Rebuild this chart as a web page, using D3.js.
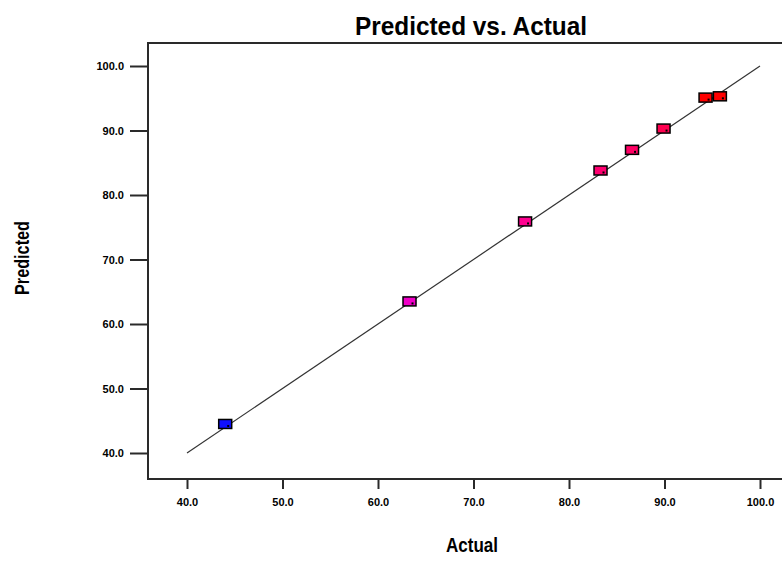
<!DOCTYPE html>
<html>
<head>
<meta charset="utf-8">
<script src="https://cdn.jsdelivr.net/npm/d3@7"></script>
<style>
html,body{margin:0;padding:0;background:#fff;}
svg{display:block;}
</style>
</head>
<body>
<svg id="chart" width="782" height="568"></svg>
<script>
// ---- data ----
const actual    = [44.0, 63.3, 75.4, 83.3, 86.6, 89.9, 94.3, 95.8];
const predicted = [44.5, 63.5, 75.9, 83.8, 87.0, 90.3, 95.1, 95.3];
const pointColors = ["#1010ff", "#f000c8", "#ff0090", "#ff0070", "#ff0064", "#ff0050", "#ff0000", "#ff0000"];
const xTicks = [40, 50, 60, 70, 80, 90, 100];
const yTicks = [40, 50, 60, 70, 80, 90, 100];
const lineRange = [40, 100];
const titleText = "Predicted vs. Actual";
const xLabel = "Actual";
const yLabel = "Predicted";

const svg = d3.select("#chart");
const x = d3.scaleLinear().domain([40, 100]).range([187, 760]);
const y = d3.scaleLinear().domain([40, 100]).range([453, 66]);

const frameL = 148, frameT = 43, frameB = 479, frameR = 790;
const axisColor = "#2a2a2a";

// frame
svg.append("path")
  .attr("d", `M${frameR},${frameT}H${frameL}V${frameB}H${frameR}`)
  .attr("fill", "none").attr("stroke", axisColor).attr("stroke-width", 2);

// x axis
const xa = svg.append("g").attr("transform", `translate(0,${frameB})`)
  .call(d3.axisBottom(x).tickValues(xTicks).tickFormat(d3.format(".1f")).tickSize(10).tickSizeOuter(0).tickPadding(9));
xa.select(".domain").remove();
xa.selectAll("line").attr("stroke", axisColor).attr("stroke-width", 2);
xa.selectAll("text").attr("font-family", "Liberation Sans, Arial, sans-serif")
  .attr("font-weight", "bold").attr("font-size", 11).attr("fill", "#000");

// y axis
const ya = svg.append("g").attr("transform", `translate(${frameL},0)`)
  .call(d3.axisLeft(y).tickValues(yTicks).tickFormat(d3.format(".1f")).tickSize(18).tickSizeOuter(0).tickPadding(6));
ya.select(".domain").remove();
ya.selectAll("line").attr("stroke", axisColor).attr("stroke-width", 2);
ya.selectAll("text").attr("font-family", "Liberation Sans, Arial, sans-serif")
  .attr("font-weight", "bold").attr("font-size", 11).attr("fill", "#000");

// diagonal reference line
svg.append("line")
  .attr("x1", x(lineRange[0])).attr("y1", y(lineRange[0]))
  .attr("x2", x(lineRange[1])).attr("y2", y(lineRange[1]))
  .attr("stroke", "#333").attr("stroke-width", 1.2);

// points
const pts = actual.map((a, i) => ({a, p: predicted[i], c: pointColors[i]}));
const g = svg.append("g");
g.selectAll("rect.pt").data(pts).join("rect").attr("class", "pt")
  .attr("x", d => x(d.a) - 6.5).attr("y", d => y(d.p) - 4.5)
  .attr("width", 13).attr("height", 9)
  .attr("fill", d => d.c).attr("stroke", "#000").attr("stroke-width", 1.5);
g.selectAll("rect.dot").data(pts).join("rect").attr("class", "dot")
  .attr("x", d => x(d.a) + 2).attr("y", d => y(d.p) + 1)
  .attr("width", 2).attr("height", 2).attr("fill", "#000");

// title
svg.append("text").attr("x", 471).attr("y", 35).attr("text-anchor", "middle")
  .attr("font-family", "Liberation Sans, Arial, sans-serif").attr("font-weight", "bold")
  .attr("font-size", 26).attr("textLength", 232).attr("lengthAdjust", "spacingAndGlyphs")
  .text(titleText);

// x label
svg.append("text").attr("x", 472).attr("y", 552).attr("text-anchor", "middle")
  .attr("font-family", "Liberation Sans, Arial, sans-serif").attr("font-weight", "bold")
  .attr("font-size", 20).attr("textLength", 52).attr("lengthAdjust", "spacingAndGlyphs")
  .text(xLabel);

// y label
svg.append("text").attr("transform", "translate(29,258) rotate(-90)").attr("text-anchor", "middle")
  .attr("font-family", "Liberation Sans, Arial, sans-serif").attr("font-weight", "bold")
  .attr("font-size", 20).attr("textLength", 74).attr("lengthAdjust", "spacingAndGlyphs")
  .text(yLabel);
</script>
</body>
</html>
